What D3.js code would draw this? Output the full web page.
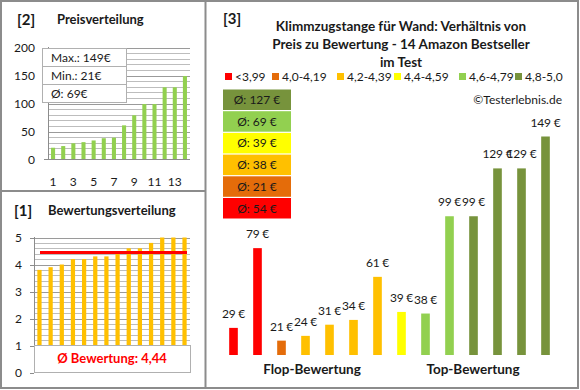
<!DOCTYPE html>
<html><head><meta charset="utf-8">
<script src="https://cdn.jsdelivr.net/npm/d3@7"></script>
<style>body{margin:0;background:#fff}svg{display:block;font-family:Lato,"Open Sans",sans-serif}</style>
</head><body>
<script>
// ---- data ----
const pricesSorted = [21, 24, 29, 31, 34, 38, 39, 61, 79, 99, 99, 129, 129, 149];
const priceStats = ["Max.: 149€", "Min.: 21€", "Ø: 69€"];
const priceTicks = [0, 50, 100, 150, 200];
const priceXTicks = [1, 3, 5, 7, 9, 11, 13];
const ratingsSorted = [3.8, 3.9, 4.0, 4.2, 4.2, 4.3, 4.3, 4.4, 4.6, 4.6, 4.8, 5.0, 5.0, 5.0];
const ratingAvg = 4.44;
const ratingTicks = [0, 1, 2, 3, 4, 5];
const barPrices = [29, 79, 21, 24, 31, 34, 61, 39, 38, 99, 99, 129, 129, 149];
const barGroups = [0, 0, 1, 2, 2, 2, 2, 3, 4, 4, 5, 5, 5, 5];
const groupLabels = ["<3,99", "4,0-4,19", "4,2-4,39", "4,4-4,59", "4,6-4,79", "4,8-5,0"];
const groupColors = ["#FF0000", "#E46C0A", "#FFC000", "#FFFF00", "#92D050", "#77933C"];
const groupAvgs = [54, 21, 38, 39, 69, 127];

const W = 580, H = 390;
const svg = d3.select("body").append("svg").attr("width", W).attr("height", H);
svg.append("rect").attr("width", W).attr("height", H).attr("fill", "#fff");
const txt = "#1a1a1a";

// ===== Panel [2] Preisverteilung =====
const p2 = svg.append("g");
p2.append("text").attr("x", 17).attr("y", 25).attr("font-size", 15).attr("font-weight", "bold").attr("fill", txt).text("[2]");
p2.append("text").attr("x", 57).attr("y", 24).attr("font-size", 13).attr("font-weight", "bold").attr("fill", txt).text("Preisverteilung");
const x2 = d3.scaleBand().domain(d3.range(14)).range([48, 190]).paddingInner(0.6).paddingOuter(0.3);
const y2 = d3.scaleLinear().domain([0, 200]).range([159.5, 47.5]);
p2.append("g").selectAll("line").data(d3.range(10, 201, 10)).join("line")
  .attr("x1", 48).attr("x2", 190).attr("y1", d => Math.round(y2(d)) + 0.5).attr("y2", d => Math.round(y2(d)) + 0.5)
  .attr("stroke", d => d % 50 === 0 ? "#9a9a9a" : "#bdbdbd").attr("stroke-width", 1);
p2.append("g").selectAll("rect").data(pricesSorted).join("rect")
  .attr("x", (d, i) => x2(i)).attr("width", x2.bandwidth())
  .attr("y", d => y2(d)).attr("height", d => y2(0) - y2(d)).attr("fill", "#92D050");
p2.append("line").attr("x1", 48.5).attr("x2", 48.5).attr("y1", 47).attr("y2", 160).attr("stroke", "#8c8c8c");
p2.append("line").attr("x1", 44).attr("x2", 190).attr("y1", 159.5).attr("y2", 159.5).attr("stroke", "#8c8c8c");
p2.append("g").selectAll("text").data(priceTicks).join("text")
  .attr("x", 35).attr("y", d => y2(d) + 4).attr("text-anchor", "end").attr("font-size", 12).attr("fill", txt).text(d => d);
p2.append("g").selectAll("text").data(priceXTicks).join("text")
  .attr("x", d => x2(d - 1) + x2.bandwidth() / 2).attr("y", 186).attr("text-anchor", "middle").attr("font-size", 12).attr("fill", txt).text(d => d);
// stats box
const sb = p2.append("g");
sb.append("rect").attr("x", 42.5).attr("y", 48.5).attr("width", 84).attr("height", 54).attr("fill", "#fff").attr("stroke", "#b0b0b0");
sb.selectAll("line").data([1, 2]).join("line").attr("x1", 42.5).attr("x2", 126.5)
  .attr("y1", d => 48.5 + d * 18).attr("y2", d => 48.5 + d * 18).attr("stroke", "#b0b0b0");
sb.selectAll("text").data(priceStats).join("text").attr("x", 51).attr("y", (d, i) => 62 + i * 18)
  .attr("font-size", 12).attr("fill", txt).text(d => d);

// ===== Panel [1] Bewertungsverteilung =====
const p1 = svg.append("g");
p1.append("text").attr("x", 14).attr("y", 216).attr("font-size", 15).attr("font-weight", "bold").attr("fill", txt).text("[1]");
p1.append("text").attr("x", 48).attr("y", 215).attr("font-size", 13).attr("font-weight", "bold").attr("fill", txt).text("Bewertungsverteilung");
const x1 = d3.scaleBand().domain(d3.range(14)).range([34, 190]).paddingInner(0.62).paddingOuter(0.3);
const y1 = d3.scaleLinear().domain([0, 5]).range([372.5, 237.5]);
p1.append("g").selectAll("line").data(d3.range(1, 26).map(i => i / 5)).join("line")
  .attr("x1", 34).attr("x2", 190).attr("y1", d => Math.round(y1(d)) + 0.5).attr("y2", d => Math.round(y1(d)) + 0.5)
  .attr("stroke", d => Math.abs(d - Math.round(d)) < 1e-6 ? "#9a9a9a" : "#bdbdbd");
p1.append("g").selectAll("rect").data(ratingsSorted).join("rect")
  .attr("x", (d, i) => x1(i)).attr("width", x1.bandwidth())
  .attr("y", d => y1(d)).attr("height", d => y1(0) - y1(d)).attr("fill", "#FFC000");
p1.append("line").attr("x1", 34.5).attr("x2", 34.5).attr("y1", 237).attr("y2", 373).attr("stroke", "#8c8c8c");
p1.append("g").selectAll("line").data(ratingTicks).join("line").attr("x1", 30).attr("x2", 34)
  .attr("y1", d => Math.round(y1(d)) + 0.5).attr("y2", d => Math.round(y1(d)) + 0.5).attr("stroke", "#8c8c8c");
p1.append("line").attr("x1", 40).attr("x2", 187).attr("y1", y1(ratingAvg)).attr("y2", y1(ratingAvg))
  .attr("stroke", "#FF0000").attr("stroke-width", 3);
p1.append("g").selectAll("text").data(ratingTicks).join("text")
  .attr("x", 22).attr("y", d => y1(d) + 4).attr("text-anchor", "end").attr("font-size", 12).attr("fill", txt).text(d => d);
p1.append("rect").attr("x", 34.5).attr("y", 345.5).attr("width", 156).attr("height", 27).attr("fill", "#fff").attr("stroke", "#b0b0b0");
p1.append("text").attr("x", 112).attr("y", 363).attr("text-anchor", "middle").attr("font-size", 13).attr("font-weight", "bold")
  .attr("fill", "#FF0000").text("Ø Bewertung: " + d3.format(".2f")(ratingAvg).replace(".", ","));

// ===== Panel [3] =====
const p3 = svg.append("g");
p3.append("text").attr("x", 223).attr("y", 24).attr("font-size", 15).attr("font-weight", "bold").attr("fill", txt).text("[3]");
const titleLines = ["Klimmzugstange für Wand: Verhältnis von", "Preis zu Bewertung - 14 Amazon Bestseller", "im Test"];
p3.append("g").selectAll("text").data(titleLines).join("text")
  .attr("x", 401).attr("y", (d, i) => 31 + i * 18).attr("text-anchor", "middle").attr("font-size", 13.5).attr("font-weight", "bold")
  .attr("fill", txt).text(d => d);
// legend
const legX = [225, 272, 337, 394, 459, 515];
const lg = p3.append("g").selectAll("g").data(groupLabels).join("g").attr("transform", (d, i) => `translate(${legX[i]},73)`);
lg.append("rect").attr("width", 7).attr("height", 7).attr("fill", (d, i) => groupColors[i]);
lg.append("text").attr("x", 10).attr("y", 8).attr("font-size", 12).attr("fill", txt).text(d => d);
p3.append("text").attr("x", 562).attr("y", 104).attr("text-anchor", "end").attr("font-size", 12).attr("fill", txt).text("©Testerlebnis.de");
// average boxes (top: best group)
const avgOrder = d3.range(groupLabels.length).reverse();
const ab = p3.append("g").selectAll("g").data(avgOrder).join("g")
  .attr("transform", (g, i) => `translate(223,${89.5 + i * 21.7})`);
ab.append("rect").attr("width", 68).attr("height", 20.5).attr("fill", g => groupColors[g]);
ab.append("text").attr("x", 34).attr("y", 14.5).attr("text-anchor", "middle").attr("font-size", 12).attr("fill", txt)
  .text(g => "Ø: " + groupAvgs[g] + " €");
// bars
const x3 = d3.scaleBand().domain(d3.range(14)).range([221.5, 557.5]).paddingInner(0.64).paddingOuter(0.32);
const y3 = d3.scaleLinear().domain([12, 149]).range([355, 136.5]);
p3.append("g").selectAll("rect").data(barPrices).join("rect")
  .attr("x", (d, i) => x3(i)).attr("width", x3.bandwidth())
  .attr("y", d => y3(d)).attr("height", d => y3(12) - y3(d)).attr("fill", (d, i) => groupColors[barGroups[i]]);
p3.append("g").selectAll("text").data(barPrices).join("text")
  .attr("x", (d, i) => x3(i) + x3.bandwidth() / 2).attr("y", d => y3(d) - 10).attr("text-anchor", "middle")
  .attr("font-size", 12).attr("letter-spacing", -0.2).attr("fill", txt).text(d => d + " €");
p3.append("text").attr("x", 312).attr("y", 374).attr("text-anchor", "middle").attr("font-size", 13.5).attr("font-weight", "bold").attr("fill", txt).text("Flop-Bewertung");
p3.append("text").attr("x", 473).attr("y", 374).attr("text-anchor", "middle").attr("font-size", 13.5).attr("font-weight", "bold").attr("fill", txt).text("Top-Bewertung");

// frames
const fr = svg.append("g").attr("fill", "none").attr("stroke", "#8c8c8c").attr("stroke-width", 2);
fr.append("rect").attr("x", 1).attr("y", 1).attr("width", 577).attr("height", 387);
fr.append("line").attr("x1", 205.5).attr("x2", 205.5).attr("y1", 1).attr("y2", 388);
fr.append("line").attr("x1", 1).attr("x2", 205.5).attr("y1", 191).attr("y2", 191);
</script>
</body></html>
